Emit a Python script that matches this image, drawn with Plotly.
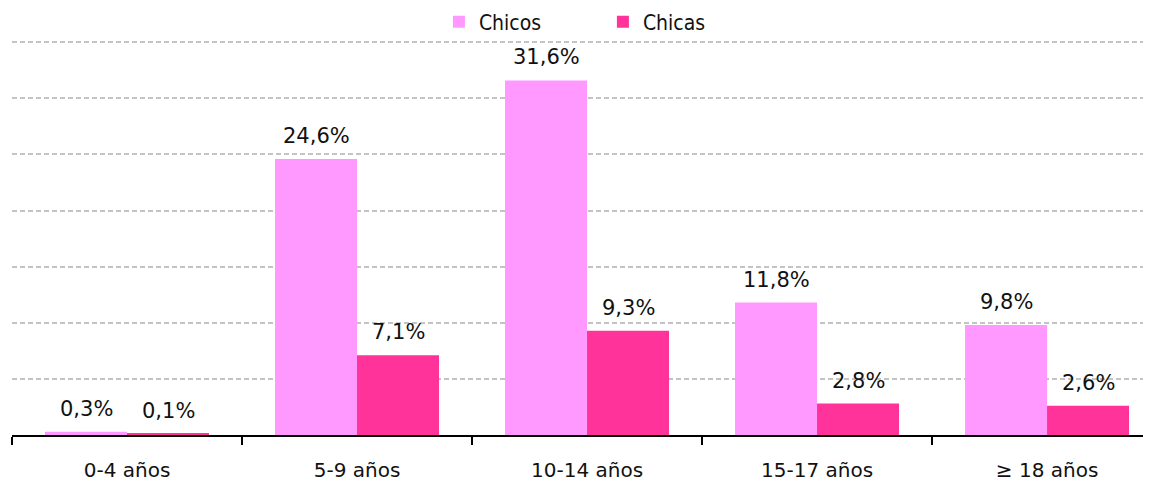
import plotly.graph_objects as go

# --- data ---
grupos = ["0-4 años", "5-9 años", "10-14 años", "15-17 años", "≥ 18 años"]
chicos = [0.3, 24.6, 31.6, 11.8, 9.8]
chicas = [0.1, 7.1, 9.3, 2.8, 2.6]

FONT = "DejaVu Sans"
W, H = 1143, 475  # page body adds an 8px margin

fig = go.Figure()
fig.add_trace(go.Bar(x=grupos, y=chicos, name="Chicos",
                     marker=dict(color="#FF99FF", line=dict(width=0))))
fig.add_trace(go.Bar(x=grupos, y=chicas, name="Chicas",
                     marker=dict(color="#FF3399", line=dict(width=0))))

# value labels, a bit above each bar
half = 41
for serie, dx in ((chicos, -half), (chicas, half)):
    for g, v in zip(grupos, serie):
        fig.add_annotation(
            x=g, y=v, xshift=dx, yshift=9, yanchor="bottom",
            text=f"{v:.1f}%".replace(".", ","), showarrow=False,
            font=dict(family=FONT, size=21, color="#111111"),
        )

fig.update_layout(
    width=W, height=H,
    margin=dict(l=4, r=0, t=32, b=48, autoexpand=False),
    paper_bgcolor="white", plot_bgcolor="white",
    font=dict(family=FONT, size=20, color="#111111"),
    barmode="group", bargap=0.287, bargroupgap=0,
    showlegend=True,
    legend=dict(
        orientation="h", xref="container", x=0.377, xanchor="left",
        yref="container", y=0.9705, yanchor="middle",
        bgcolor="rgba(0,0,0,0)",
        entrywidth=119, font=dict(family="DejaVu Sans Condensed, DejaVu Sans", size=21),
        itemwidth=30,
    ),
)
fig.update_xaxes(
    type="category", range=[-0.5, 4.452], automargin=False,
    showline=True, linecolor="black", linewidth=1.5,
    ticks="outside", tickson="boundaries", ticklen=8, tickcolor="black", tickwidth=1.5,
    ticklabelstandoff=16, showgrid=False,
)
fig.update_yaxes(
    range=[0, 35.2], dtick=5, showticklabels=False, automargin=False,
    showgrid=True, gridcolor="#C4C4C4", griddash="5px,3px", gridwidth=1.5,
    zeroline=False, showline=False,
)

fig.write_html("out.html")
